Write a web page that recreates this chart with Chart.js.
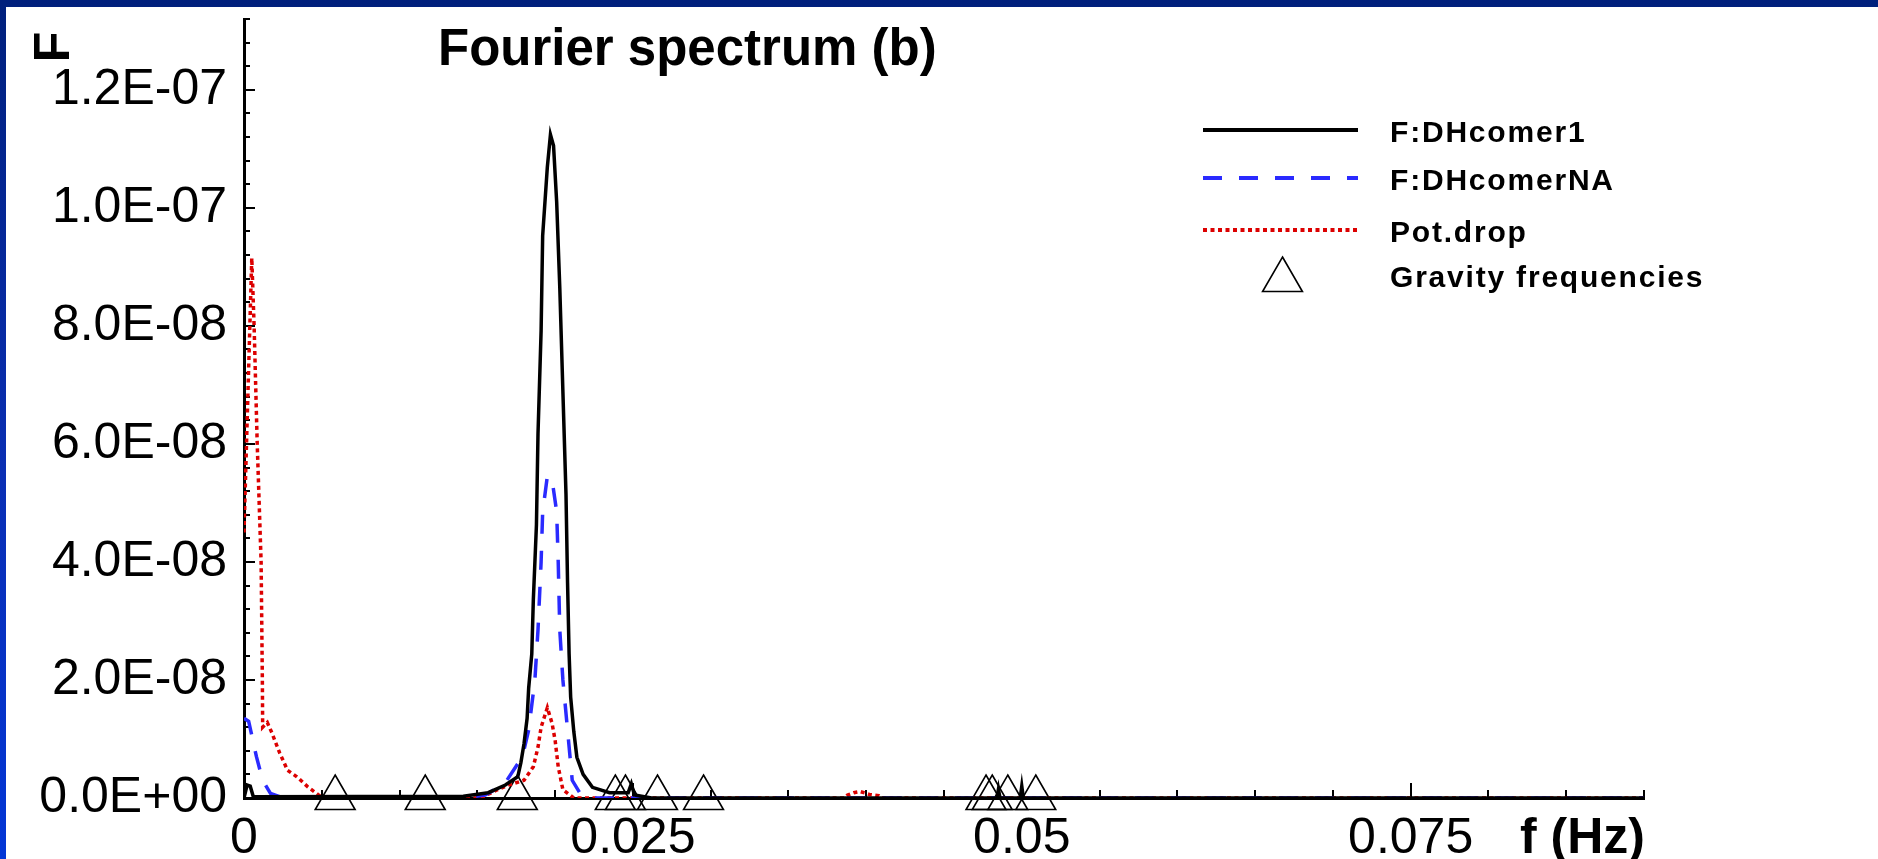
<!DOCTYPE html>
<html>
<head>
<meta charset="utf-8">
<title>Fourier spectrum (b)</title>
<script src="https://cdn.jsdelivr.net/npm/chart.js@4.4.1/dist/chart.umd.min.js"></script>
<style>
    html, body { margin: 0; padding: 0; }
    body {
        width: 1878px;
        height: 859px;
        overflow: hidden;
        position: relative;
        background: linear-gradient(180deg, #00207c 0%, #0a2fb4 55%, #0336d6 100%);
    }
    #panel {
        position: absolute;
        left: 6px;
        top: 7px;
        width: 1872px;
        height: 852px;
        background: #ffffff;
    }
    canvas { display: block; }
</style>
</head>
<body>
<div id="panel"><canvas id="spectrum" width="1872" height="852"></canvas></div>
<script>
// amplitudes are given in units of 1E-09
var AMP_UNIT = 1e-9;

// F:DHcomer1 (solid black)
var corner1Freq = [0, 0.0002, 0.0004, 0.0006, 0.0141, 0.0157, 0.0168, 0.0176, 0.0178, 0.0180,
    0.0182, 0.0183, 0.0185, 0.0186, 0.0188, 0.0189, 0.0191, 0.0192, 0.0195, 0.0197,
    0.0199, 0.0201, 0.0203, 0.0205, 0.0207, 0.0208, 0.0209, 0.0210, 0.0212, 0.0214,
    0.0218, 0.0224, 0.0235, 0.0247, 0.0249, 0.0251, 0.0262, 0.0484, 0.0485, 0.0486,
    0.0499, 0.0500, 0.0501, 0.0900];
var corner1Amp = [0, 2.2, 2.0, 0.2, 0.3, 0.9, 2.2, 3.6, 6.0, 9.2,
    13.5, 18.6, 24.4, 33.6, 46.3, 61.7, 79.2, 95.3, 106.9, 112.4,
    110.5, 101.0, 86.5, 68.9, 51.4, 36.5, 24.4, 17.1, 11.3, 6.9,
    4.0, 1.8, 0.9, 0.9, 2.4, 0.5, 0, 0, 1.5, 0,
    0, 2.0, 0, 0];

// F:DHcomerNA (dashed blue)
var cornerNAFreq = [0, 0.0003, 0.0008, 0.0012, 0.0017, 0.0025, 0.0141, 0.0155, 0.0165, 0.0169,
    0.0179, 0.0183, 0.0187, 0.0189, 0.0191, 0.0192, 0.0195, 0.0198, 0.0201, 0.0202,
    0.0203, 0.0205, 0.0208, 0.0211, 0.0216, 0.0225, 0.0900];
var cornerNAAmp = [13.5, 13.0, 7.0, 3.0, 0.8, 0, 0, 0.5, 2.0, 3.0,
    7.0, 11.5, 20.0, 28.5, 40.0, 48.5, 54.5, 54.0, 48.5, 40.0,
    28.5, 20.0, 11.5, 3.0, 0.8, 0, 0];

// Pot.drop (dotted red)
var potDropFreq = [0, 0.0005, 0.00065, 0.00085, 0.0011, 0.00118, 0.0012, 0.0015, 0.0018, 0.0023,
    0.0028, 0.0034, 0.0041, 0.0049, 0.0057, 0.0152, 0.0163, 0.0170, 0.0180, 0.0186,
    0.0189, 0.0191, 0.0195, 0.0198, 0.0200, 0.0202, 0.0205, 0.0212, 0.0386, 0.0388,
    0.0392, 0.0396, 0.0402, 0.0408, 0.0410, 0.0900];
var potDropAmp = [45, 91.5, 80, 60, 40, 20, 12, 12.8, 11, 7.6,
    4.7, 3.6, 1.9, 0.3, 0, 0, 1.4, 2.2, 3.0, 5.3,
    8.6, 12.0, 15.3, 12.7, 9.8, 5.3, 1.4, 0, 0, 0.5,
    0.9, 1.1, 0.6, 0.4, 0, 0];

// Gravity frequencies (open triangles on the axis)
var gravityFreq = [0.00586, 0.01165, 0.01757, 0.02387, 0.02452, 0.02658, 0.02954,
    0.0477, 0.0481, 0.0491, 0.0509];

// axes
var xMax = 0.09, xMajorStep = 0.025, xMinorStep = 0.005;
var yMax = 1.32e-7, yMajorStep = 2e-8, yMinorStep = 4e-9;

var FONT = '"Liberation Sans", Arial, Helvetica, sans-serif';

function toPoints(freq, amp, unit) {
    return freq.map(function(f, i) {
        return { x: f, y: amp[i] * unit };
    });
}

function sciLabel(v) {
    if (Math.abs(v) < 1e-15) return '0.0E+00';
    var parts = v.toExponential(1).toUpperCase().split('E');
    var exp = parseInt(parts[1], 10);
    var e = Math.abs(exp);
    return parts[0] + 'E' + (exp < 0 ? '-' : '+') + (e < 10 ? '0' + e : e);
}

//draws the inward ticks, the titles and the legend
var decorations = {
    id: 'decorations',
    beforeDatasetsDraw: function(chart) {
        var ctx = chart.ctx;
        var area = chart.chartArea;
        var xs = chart.scales.x, ys = chart.scales.y;
        ctx.save();
        ctx.strokeStyle = '#000';
        ctx.lineWidth = 2;
        var n = Math.round(xMax / xMinorStep);
        for (var i = 0; i <= n; i++) {
            var px = Math.round(xs.getPixelForValue(i * xMinorStep));
            var len = (i % 5 === 0) ? 15 : 8;
            ctx.beginPath();
            ctx.moveTo(px, area.bottom);
            ctx.lineTo(px, area.bottom - len);
            ctx.stroke();
        }
        var m = Math.round(yMax / yMinorStep);
        for (var j = 0; j <= m; j++) {
            var py = Math.round(ys.getPixelForValue(j * yMinorStep));
            var l = (j % 5 === 0) ? 11 : 6;
            ctx.beginPath();
            ctx.moveTo(area.left, py);
            ctx.lineTo(area.left + l, py);
            ctx.stroke();
        }
        ctx.restore();
    },
    afterDraw: function(chart) {
        var ctx = chart.ctx;
        var area = chart.chartArea;
        ctx.save();
        ctx.fillStyle = '#000';

        // title
        ctx.font = 'bold 51px ' + FONT;
        ctx.textAlign = 'left';
        ctx.textBaseline = 'alphabetic';
        ctx.fillText('Fourier spectrum (b)', 432, 58);

        // x axis title
        ctx.font = 'bold 50px ' + FONT;
        ctx.textAlign = 'right';
        ctx.fillText('f (Hz)', area.right + 1, 846);

        // y axis title, rotated
        ctx.save();
        ctx.translate(49, 40);
        ctx.rotate(-Math.PI / 2);
        ctx.textAlign = 'center';
        ctx.textBaseline = 'middle';
        ctx.fillText('F', 0, 0);
        ctx.restore();

        // legend
        var rowsY = [125, 173, 225, 270];
        var lineX0 = 1197, lineX1 = 1352, textX = 1384;
        ctx.font = 'bold 30px ' + FONT;
        ctx.letterSpacing = '1.8px';
        ctx.textAlign = 'left';
        ctx.textBaseline = 'middle';
        chart.data.datasets.forEach(function(ds, k) {
            var y = rowsY[k];
            if (ds.showLine === false) {
                ctx.save();
                ctx.fillStyle = 'rgba(0,0,0,0)';
                ctx.strokeStyle = ds.borderColor;
                Chart.helpers.drawPoint(ctx, {
                    pointStyle: 'triangle',
                    radius: ds.pointRadius,
                    borderWidth: ds.borderWidth
                }, (lineX0 + lineX1) / 2 + 2, y + 3);
                ctx.restore();
            } else {
                ctx.save();
                ctx.strokeStyle = ds.borderColor;
                ctx.lineWidth = 4;
                ctx.setLineDash(ds.borderDash || []);
                ctx.beginPath();
                ctx.moveTo(lineX0, y - 2);
                ctx.lineTo(lineX1, y - 2);
                ctx.stroke();
                ctx.restore();
            }
            ctx.fillStyle = '#000';
            ctx.fillText(ds.label, textX, y + 2);
        });
        ctx.restore();
    }
};

var canvas = document.getElementById('spectrum');
var chart = new Chart(canvas.getContext('2d'), {
    type: 'line',
    data: {
        datasets: [{
            label: 'F:DHcomer1',
            data: toPoints(corner1Freq, corner1Amp, AMP_UNIT),
            borderColor: '#000000',
            borderWidth: 3.5,
            pointRadius: 0,
            tension: 0
        }, {
            label: 'F:DHcomerNA',
            data: toPoints(cornerNAFreq, cornerNAAmp, AMP_UNIT),
            borderColor: '#2a2aff',
            borderWidth: 3.5,
            borderDash: [19, 17],
            pointRadius: 0,
            tension: 0
        }, {
            label: 'Pot.drop',
            data: toPoints(potDropFreq, potDropAmp, AMP_UNIT),
            borderColor: '#dc0000',
            borderWidth: 3.5,
            borderDash: [4, 3.5],
            pointRadius: 0,
            tension: 0
        }, {
            label: 'Gravity frequencies',
            data: gravityFreq.map(function(f) { return { x: f, y: 0 }; }),
            showLine: false,
            pointStyle: 'triangle',
            pointRadius: 23,
            borderColor: '#000000',
            backgroundColor: 'rgba(0,0,0,0)',
            borderWidth: 1.6,
            clip: false
        }]
    },
    options: {
        responsive: false,
        animation: false,
        devicePixelRatio: 1,
        // the big triangle markers would otherwise add padding round the plot area
        layout: { autoPadding: false, padding: { top: 12, right: 234, left: 0, bottom: 0 } },
        plugins: {
            legend: { display: false },
            title: { display: false },
            tooltip: { enabled: false }
        },
        scales: {
            x: {
                type: 'linear',
                min: 0,
                max: xMax,
                grid: { display: false, drawTicks: false },
                border: { display: true, color: '#000', width: 3 },
                ticks: {
                    stepSize: xMajorStep,
                    includeBounds: false,
                    maxRotation: 0,
                    padding: 11,
                    color: '#000',
                    font: { family: FONT, size: 50 },
                    callback: function(v) {
                        return v === 0 ? '0' : String(parseFloat(v.toFixed(4)));
                    }
                },
                afterFit: function(scale) {
                    scale.height = 61;
                    scale.paddingLeft = 0;
                    scale.paddingRight = 0;
                }
            },
            y: {
                type: 'linear',
                min: 0,
                max: yMax,
                grid: { display: false, drawTicks: false },
                border: { display: true, color: '#000', width: 3 },
                ticks: {
                    stepSize: yMajorStep,
                    includeBounds: false,
                    padding: 17,
                    color: '#000',
                    font: { family: FONT, size: 50 },
                    callback: function(v) { return sciLabel(v); }
                },
                afterFit: function(scale) {
                    scale.width = 238;
                    scale.paddingTop = 0;
                    scale.paddingBottom = 0;
                }
            }
        }
    },
    plugins: [decorations]
});
</script>
</body>
</html>
